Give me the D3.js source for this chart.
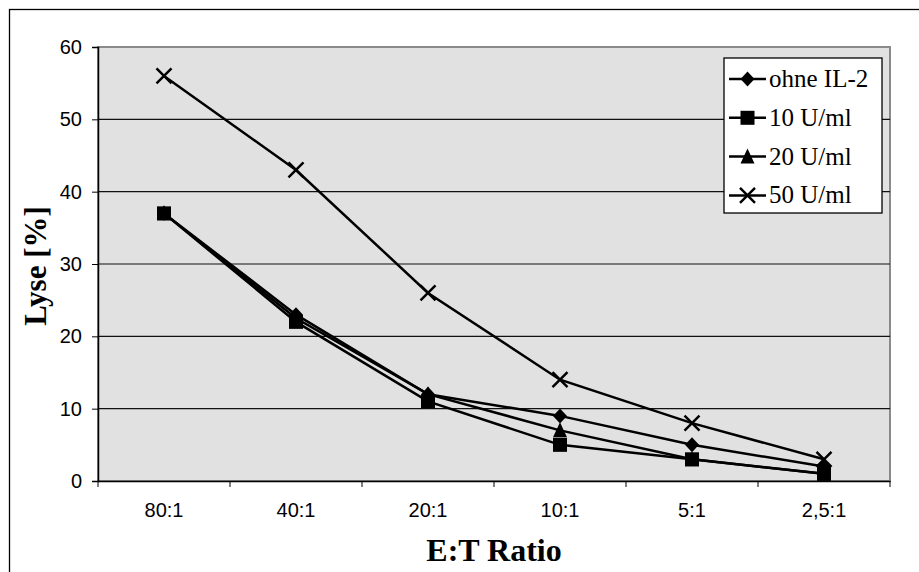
<!DOCTYPE html>
<html><head><meta charset="utf-8">
<script src="https://cdn.jsdelivr.net/npm/d3@7/dist/d3.min.js"></script>
<style>body{margin:0;background:#fff}svg{display:block}</style>
</head><body>
<script>
const categories = ["80:1","40:1","20:1","10:1","5:1","2,5:1"];
const seriesNames = ["ohne IL-2","10 U/ml","20 U/ml","50 U/ml"];
const ohneIL2 = [37,23,12,9,5,2];
const u10 = [37,22,11,5,3,1];
const u20 = [37,22.5,12,7,3,1];
const u50 = [56,43,26,14,8,3];
const yTicks = [0,10,20,30,40,50,60];
const markers = ["diamond","square","triangle","cross"];
const seriesValues = [ohneIL2,u10,u20,u50];

const W=919,H=572;
const sans="'Liberation Sans',Arial,sans-serif", serif="'Liberation Serif','Times New Roman',serif";
const svg=d3.select("body").append("svg").attr("width",W).attr("height",H);
svg.append("rect").attr("width",W).attr("height",H).attr("fill","#fff");
svg.append("rect").attr("x",9.5).attr("y",9.5).attr("width",W).attr("height",H)
  .attr("fill","none").attr("stroke","#000").attr("stroke-width",1.3);

const L=98,R=890,T=47,B=481;
const x=d3.scaleBand().domain(categories).range([L,R]);
const y=d3.scaleLinear().domain([0,60]).range([B,T]);

svg.append("rect").attr("x",L).attr("y",T).attr("width",R-L).attr("height",B-T)
  .attr("fill","#e1e1e1").attr("stroke","#8a8a8a").attr("stroke-width",2);

svg.append("g").selectAll("line").data(yTicks.filter(d=>d>0&&d<60)).join("line")
  .attr("x1",L).attr("x2",R).attr("y1",d=>y(d)).attr("y2",d=>y(d))
  .attr("stroke","#111").attr("stroke-width",1.2);

const yAxis=svg.append("g").attr("transform",`translate(${L},0)`)
  .call(d3.axisLeft(y).tickValues(yTicks).tickSize(6).tickPadding(10));
yAxis.select(".domain").attr("stroke","#000").attr("stroke-width",1.5);
yAxis.selectAll("text").attr("font-family",sans).attr("font-size",20).attr("fill","#000");

const xAxis=svg.append("g").attr("transform",`translate(0,${B})`)
  .call(d3.axisBottom(x).tickSize(0).tickPadding(22));
xAxis.select(".domain").attr("stroke","#000").attr("stroke-width",1.5);
xAxis.selectAll("text").attr("font-family",sans).attr("font-size",20).attr("fill","#000");
const bounds=categories.map(c=>x(c)).concat([R]);
xAxis.selectAll(".bt").data(bounds).join("line").attr("class","bt")
  .attr("x1",d=>d).attr("x2",d=>d).attr("y1",0).attr("y2",6).attr("stroke","#000");

svg.append("text").attr("transform",`translate(46,${(T+B)/2+2}) rotate(-90)`)
  .attr("text-anchor","middle").attr("font-family",serif)
  .attr("font-weight","bold").attr("font-size",31).text("Lyse [%]");
svg.append("text").attr("x",(L+R)/2).attr("y",561)
  .attr("text-anchor","middle").attr("font-family",serif)
  .attr("font-weight","bold").attr("font-size",32).text("E:T Ratio");

function drawMarker(g,type,cx,cy){
  if(type==="diamond") g.append("path").attr("d",`M${cx},${cy-7.5}L${cx+7},${cy}L${cx},${cy+7.5}L${cx-7},${cy}Z`).attr("fill","#000");
  else if(type==="square") g.append("rect").attr("x",cx-7).attr("y",cy-7).attr("width",14).attr("height",14).attr("fill","#000");
  else if(type==="triangle") g.append("path").attr("d",`M${cx},${cy-8}L${cx+7},${cy+7}L${cx-7},${cy+7}Z`).attr("fill","#000");
  else g.append("path").attr("d",`M${cx-7.5},${cy-7.5}L${cx+7.5},${cy+7.5}M${cx+7.5},${cy-7.5}L${cx-7.5},${cy+7.5}`).attr("stroke","#000").attr("stroke-width",2.5);
}
const line=d3.line().x((d,i)=>x(categories[i])+x.bandwidth()/2).y(d=>y(d));
seriesValues.forEach((vals,s)=>{
  const g=svg.append("g");
  g.append("path").attr("d",line(vals)).attr("fill","none").attr("stroke","#000").attr("stroke-width",2.5);
  vals.forEach((v,i)=>drawMarker(g,markers[s],x(categories[i])+x.bandwidth()/2,y(v)));
});

// legend
const lg=svg.append("g");
const lx=724,ly=58,lw=158,lh=155;
lg.append("rect").attr("x",lx).attr("y",ly).attr("width",lw).attr("height",lh)
  .attr("fill","#fff").attr("stroke","#000").attr("stroke-width",1.3);
seriesNames.forEach((n,i)=>{
  const base=ly+29+i*38.8, cy=base-8;
  lg.append("line").attr("x1",lx+5).attr("x2",lx+42).attr("y1",cy).attr("y2",cy).attr("stroke","#000").attr("stroke-width",2.5);
  drawMarker(lg,markers[i],lx+23.5,cy);
  lg.append("text").attr("x",lx+45).attr("y",base).attr("font-family",serif)
    .attr("font-size",25).text(n);
});
</script>
</body></html>
